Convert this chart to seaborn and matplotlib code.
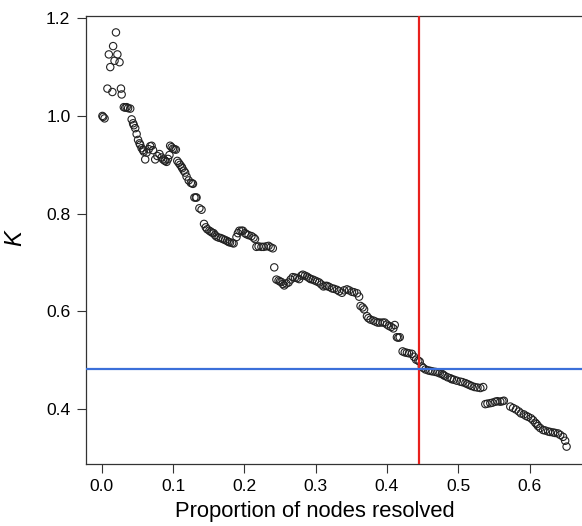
import numpy as np
import pandas as pd
import seaborn as sns
import matplotlib.pyplot as plt

# values
prop_resolved = [
    0.001, 0.002, 0.004, 0.008, 0.010, 0.012, 0.015, 0.016, 0.018, 0.020,
    0.022, 0.025, 0.027, 0.028, 0.031, 0.033, 0.035, 0.037, 0.040, 0.042,
    0.044, 0.045, 0.047, 0.049, 0.051, 0.053, 0.054, 0.056, 0.058, 0.059,
    0.061, 0.063, 0.066, 0.068, 0.070, 0.072, 0.075, 0.078, 0.081, 0.084,
    0.086, 0.088, 0.089, 0.091, 0.093, 0.095, 0.096, 0.098, 0.100, 0.102,
    0.104, 0.106, 0.108, 0.110, 0.112, 0.113, 0.115, 0.117, 0.119, 0.122,
    0.125, 0.127, 0.128, 0.130, 0.132, 0.133, 0.137, 0.140, 0.1435, 0.146,
    0.148, 0.151, 0.153, 0.155, 0.157, 0.159, 0.161, 0.164, 0.167, 0.170,
    0.173, 0.176, 0.178, 0.180, 0.183, 0.185, 0.189, 0.191, 0.193, 0.196,
    0.198, 0.201, 0.203, 0.206, 0.210, 0.213, 0.215, 0.217, 0.220, 0.224,
    0.227, 0.231, 0.234, 0.237, 0.240, 0.242, 0.245, 0.248, 0.250, 0.252,
    0.254, 0.256, 0.259, 0.262, 0.265, 0.268, 0.271, 0.274, 0.277, 0.280,
    0.282, 0.285, 0.288, 0.291, 0.293, 0.296, 0.299, 0.302, 0.305, 0.308,
    0.311, 0.314, 0.316, 0.319, 0.323, 0.326, 0.330, 0.333, 0.337, 0.340,
    0.344, 0.347, 0.351, 0.354, 0.358, 0.361, 0.363, 0.366, 0.368, 0.372,
    0.374, 0.377, 0.381, 0.384, 0.387, 0.390, 0.394, 0.397, 0.400, 0.403,
    0.406, 0.409, 0.411, 0.414, 0.416, 0.418, 0.422, 0.425, 0.428, 0.431,
    0.435, 0.438, 0.441, 0.444, 0.446, 0.449, 0.451, 0.454, 0.458, 0.461,
    0.464, 0.468, 0.471, 0.474, 0.477, 0.479, 0.481, 0.485, 0.489, 0.491,
    0.494, 0.498, 0.503, 0.506, 0.510, 0.513, 0.516, 0.519, 0.523, 0.527,
    0.531, 0.535, 0.538, 0.541, 0.545, 0.548, 0.552, 0.555, 0.559, 0.562,
    0.564, 0.573, 0.577, 0.581, 0.585, 0.588, 0.592, 0.595, 0.598, 0.602,
    0.605, 0.608, 0.610, 0.612, 0.615, 0.619, 0.622, 0.626, 0.629, 0.633,
    0.636, 0.640, 0.643, 0.647, 0.650, 0.652,
]
k_values = [
    1.000, 0.998, 0.995, 1.056, 1.126, 1.100, 1.049, 1.143, 1.113, 1.171,
    1.126, 1.110, 1.056, 1.044, 1.018, 1.017, 1.018, 1.016, 1.015, 0.993,
    0.985, 0.981, 0.975, 0.963, 0.951, 0.944, 0.941, 0.934, 0.930, 0.927,
    0.911, 0.925, 0.932, 0.938, 0.939, 0.930, 0.911, 0.918, 0.922, 0.915,
    0.911, 0.909, 0.908, 0.906, 0.912, 0.920, 0.939, 0.936, 0.933, 0.932,
    0.931, 0.908, 0.904, 0.900, 0.896, 0.893, 0.888, 0.884, 0.876, 0.868,
    0.863, 0.862, 0.861, 0.833, 0.833, 0.833, 0.811, 0.808, 0.779, 0.772,
    0.768, 0.765, 0.763, 0.761, 0.760, 0.756, 0.753, 0.751, 0.750, 0.748,
    0.746, 0.744, 0.742, 0.741, 0.740, 0.739, 0.752, 0.760, 0.765, 0.765,
    0.765, 0.760, 0.758, 0.756, 0.754, 0.751, 0.748, 0.732, 0.733, 0.732,
    0.732, 0.733, 0.734, 0.731, 0.729, 0.690, 0.665, 0.663, 0.661, 0.660,
    0.656, 0.653, 0.657, 0.659, 0.665, 0.670, 0.669, 0.668, 0.666, 0.673,
    0.675, 0.673, 0.671, 0.668, 0.666, 0.665, 0.663, 0.661, 0.659, 0.655,
    0.651, 0.652, 0.652, 0.650, 0.647, 0.646, 0.644, 0.641, 0.638, 0.643,
    0.645, 0.643, 0.640, 0.639, 0.637, 0.630, 0.611, 0.608, 0.604, 0.590,
    0.586, 0.583, 0.581, 0.579, 0.577, 0.577, 0.577, 0.577, 0.573, 0.570,
    0.568, 0.565, 0.572, 0.547, 0.546, 0.547, 0.518, 0.516, 0.515, 0.514,
    0.513, 0.507, 0.501, 0.499, 0.497, 0.487, 0.484, 0.481, 0.479, 0.478,
    0.477, 0.476, 0.475, 0.473, 0.472, 0.470, 0.468, 0.465, 0.463, 0.461,
    0.460, 0.458, 0.456, 0.455, 0.453, 0.451, 0.449, 0.447, 0.445, 0.444,
    0.443, 0.445, 0.410, 0.411, 0.412, 0.413, 0.415, 0.416, 0.415, 0.416,
    0.417, 0.405, 0.402, 0.399, 0.395, 0.391, 0.389, 0.386, 0.384, 0.381,
    0.377, 0.372, 0.369, 0.365, 0.361, 0.357, 0.356, 0.354, 0.353, 0.352,
    0.351, 0.350, 0.347, 0.343, 0.335, 0.323,
]
cutoff_prop = 0.445
cutoff_k = 0.482

df = pd.DataFrame({"prop": prop_resolved, "K": k_values})

sns.set_style("ticks")
plt.rcParams['font.family'] = ['Liberation Sans', 'DejaVu Sans']

fig = plt.figure(figsize=(5.82, 5.26), dpi=100)
ax = fig.add_axes([0.1473, 0.1184, 0.8527, 0.8518])

sns.scatterplot(x="prop", y="K", data=df, ax=ax, marker="o", s=28,
                facecolors="none", edgecolor="#222222", linewidth=0.8, zorder=2)

ax.axvline(cutoff_prop, color="#e8201c", lw=1.6, zorder=3)
ax.axhline(cutoff_k, color="#3b6fd9", lw=1.6, zorder=3)

ax.set_xlim(-0.0224, 0.6736)
ax.set_ylim(0.288, 1.2053)
ax.set_xticks([0.0, 0.1, 0.2, 0.3, 0.4, 0.5, 0.6])
ax.set_yticks([0.4, 0.6, 0.8, 1.0, 1.2])
ax.set_xticklabels(["0.0", "0.1", "0.2", "0.3", "0.4", "0.5", "0.6"])
ax.set_yticklabels(["0.4", "0.6", "0.8", "1.0", "1.2"])
ax.tick_params(axis="both", length=6.5, width=0.8, pad=4.5, labelsize=12.6,
               color="#333333", labelcolor="black")

for side in ["left", "bottom", "top"]:
    ax.spines[side].set_linewidth(0.9)
    ax.spines[side].set_color("#333333")
ax.spines["right"].set_visible(False)

ax.set_xlabel("Proportion of nodes resolved", fontsize=15.8, color="black")
ax.set_ylabel("K", fontsize=17, style="italic", color="black")
ax.xaxis.set_label_coords(0.461, -0.083)
ax.yaxis.set_label_coords(-0.119, 0.503)

plt.savefig("out.png", dpi=100)
plt.close()
